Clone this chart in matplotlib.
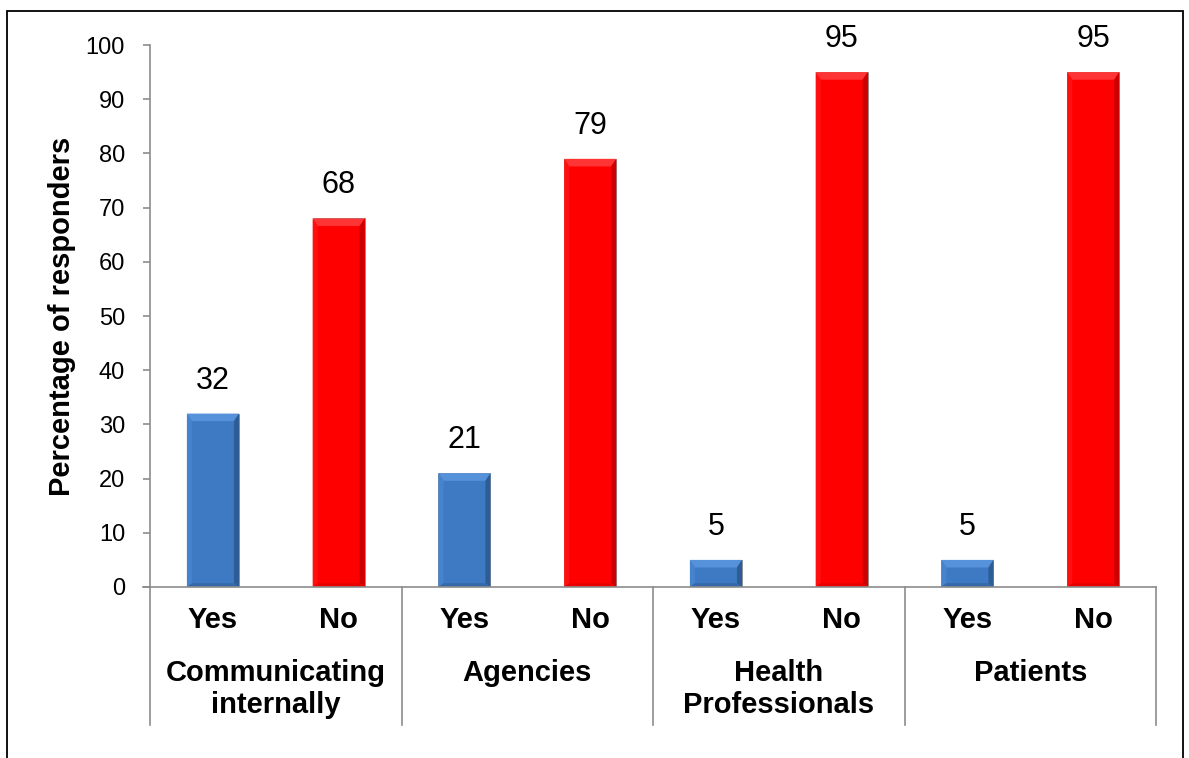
import numpy as np
import matplotlib
matplotlib.use("Agg")
import matplotlib.pyplot as plt
import matplotlib.transforms as mtransforms
from matplotlib.patches import Rectangle, Polygon

plt.rcParams['font.family'] = ['Liberation Sans', 'DejaVu Sans']

# Data
categories = ["Communicating\ninternally", "Agencies", "Health\nProfessionals", "Patients"]
answers = ["Yes", "No"]
yes_values = [32, 21, 5, 5]
no_values = [68, 79, 95, 95]

# bar face / bevel colours: main, top, left, right, bottom
yes_shades = ["#3E7AC4", "#5592DA", "#4583CE", "#2E5C95", "#3569A8"]
no_shades = ["#FF0000", "#FF3434", "#FF1010", "#CC0000", "#E80000"]
axis_gray = "#8C8C8C"

fig = plt.figure(figsize=(11.89, 7.58), dpi=100)
ax = fig.add_axes([0.1262, 0.2256, 0.9723 - 0.1262, 0.9406 - 0.2256])

x = np.arange(len(categories))
width = 0.207
yes_bars = ax.bar(x - 0.25, yes_values, width, color=yes_shades[0], edgecolor="#8a8a8a", linewidth=0.6)
no_bars = ax.bar(x + 0.25, no_values, width, color=no_shades[0], edgecolor="#8a8a8a", linewidth=0.6)


def add_bevel(bar, shades, dx=0.02, dy=1.4):
    # soft bevel like the office "3D" bar style
    x0, w, h = bar.get_x(), bar.get_width(), bar.get_height()
    x1 = x0 + w
    dy = min(dy, h / 3)
    parts = [
        ([(x0, h), (x1, h), (x1 - dx, h - dy), (x0 + dx, h - dy)], shades[1]),
        ([(x0, 0), (x0, h), (x0 + dx, h - dy), (x0 + dx, dy * 0.5)], shades[2]),
        ([(x1, 0), (x1, h), (x1 - dx, h - dy), (x1 - dx, dy * 0.5)], shades[3]),
        ([(x0, 0), (x1, 0), (x1 - dx, dy * 0.5), (x0 + dx, dy * 0.5)], shades[4]),
    ]
    for pts, c in parts:
        ax.add_patch(Polygon(pts, closed=True, facecolor=c, edgecolor="none", zorder=bar.get_zorder() + 0.1))


for b in yes_bars:
    add_bevel(b, yes_shades)
for b in no_bars:
    add_bevel(b, no_shades)

# value labels above bars
for bars, vals in ((yes_bars, yes_values), (no_bars, no_values)):
    for b, v in zip(bars, vals):
        ax.annotate(str(v), (b.get_x() + b.get_width() / 2, v), xytext=(0, 13),
                    textcoords="offset points", ha="center", va="bottom", fontsize=22)

ax.set_xlim(-0.5, len(categories) - 0.5)
ax.set_ylim(0, 100)
ax.set_yticks(np.arange(0, 101, 10))
ax.tick_params(axis="y", labelsize=17, length=5, color=axis_gray, width=1.2, pad=13)
ax.set_xticks([])
ax.set_ylabel("Percentage of responders", fontsize=21, fontweight="bold", labelpad=7)

for side in ("top", "right"):
    ax.spines[side].set_visible(False)
for side in ("left", "bottom"):
    ax.spines[side].set_color(axis_gray)
    ax.spines[side].set_linewidth(1.2)

# category axis: Yes/No row, group names, separators
trans = mtransforms.blended_transform_factory(ax.transData, ax.transAxes)
for i, cat in enumerate(categories):
    for off, ans in zip((-0.25, 0.25), answers):
        ax.text(i + off, -0.061, ans, transform=trans, ha="center", va="center",
                fontsize=21, fontweight="bold")
    for k, line in enumerate(cat.split("\n")):
        ax.text(i, -0.1587 - 0.059 * k, line, transform=trans, ha="center", va="center",
                fontsize=21, fontweight="bold")
for s in np.arange(len(categories) + 1) - 0.5:
    ax.plot([s, s], [0, -0.2546], transform=trans, color=axis_gray, lw=1.2, clip_on=False)
ax.plot([-0.5 - 0.028, -0.5], [0, 0], transform=trans, color=axis_gray, lw=1.2, clip_on=False)

# outer frame
fig.patches.append(Rectangle((0.0059, -0.05), 0.995 - 0.0059, 0.9855 + 0.05,
                             transform=fig.transFigure, fill=False, edgecolor="black",
                             linewidth=1.3))

fig.savefig("out.png", dpi=100)
